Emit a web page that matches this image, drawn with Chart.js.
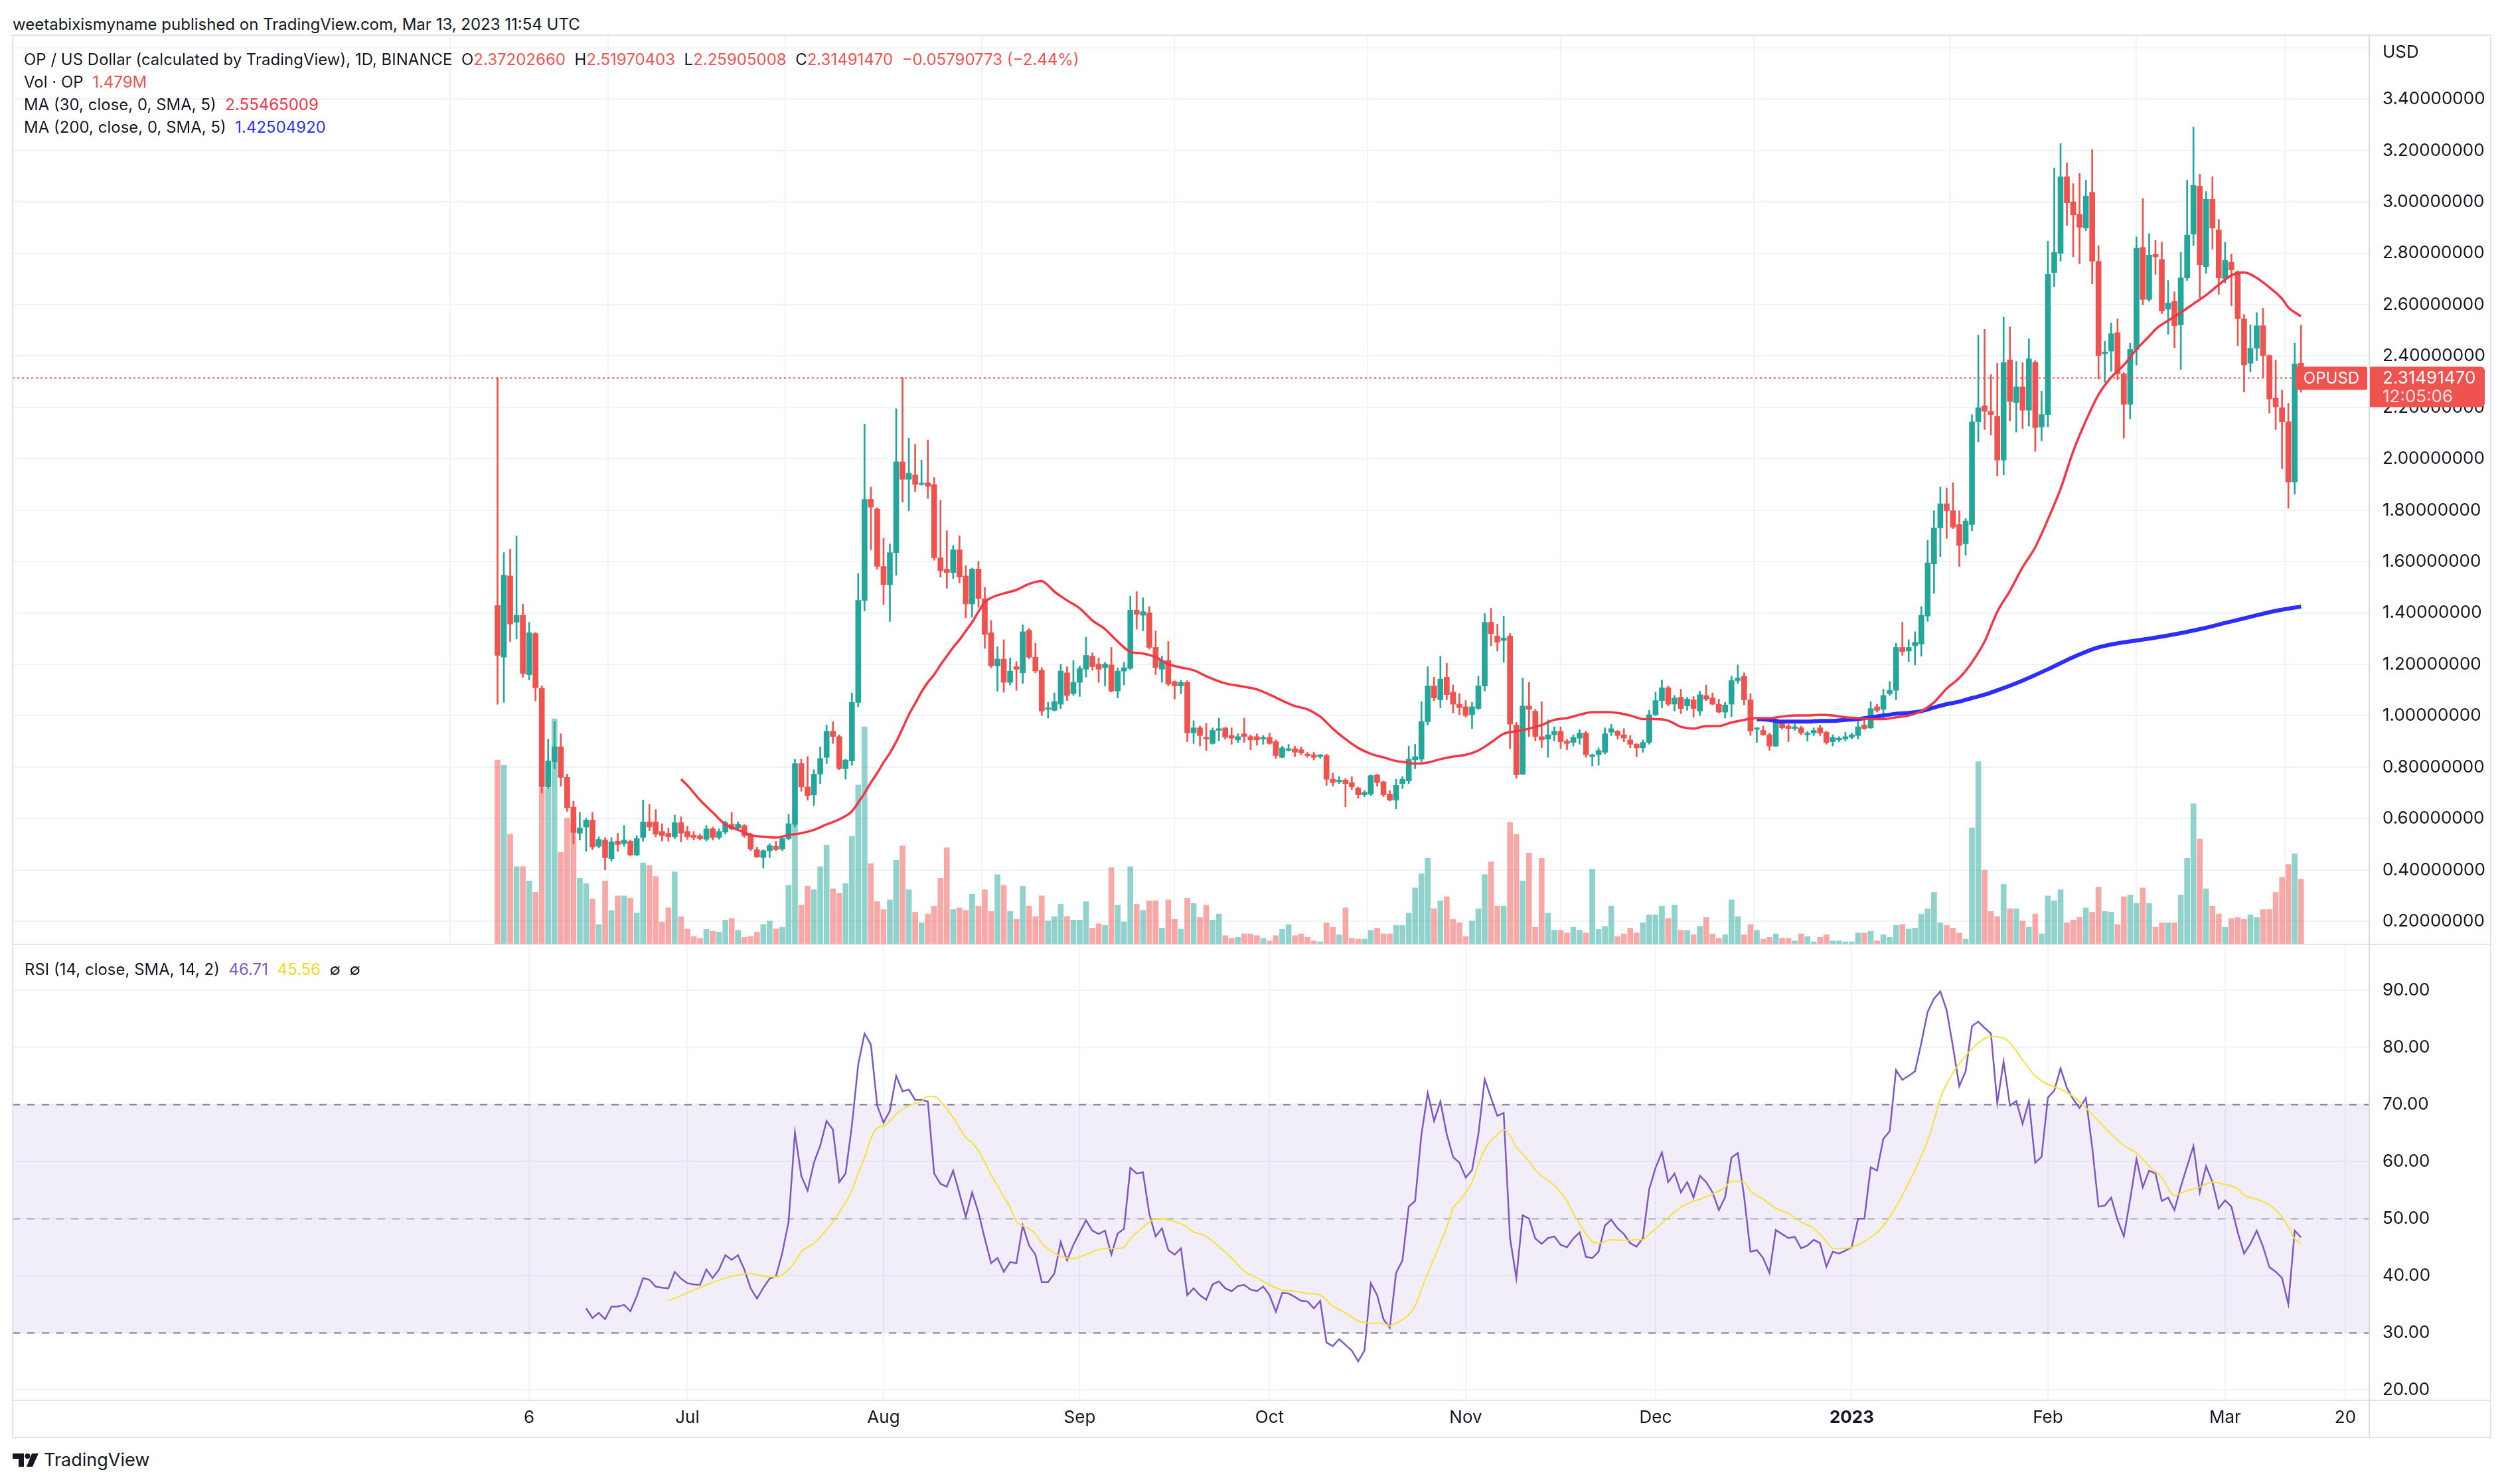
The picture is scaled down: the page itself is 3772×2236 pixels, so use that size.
<!DOCTYPE html>
<html><head><meta charset="utf-8">
<script src="https://cdn.jsdelivr.net/npm/chart.js@4.4.1/dist/chart.umd.min.js"></script>
<style>
html,body{margin:0;padding:0;background:#fff;}
body{width:3772px;height:2236px;position:relative;overflow:hidden;font-family:Inter,"Noto Sans",sans-serif;color:#131722;}
.abs{position:absolute;white-space:pre;line-height:30px;}
.r{color:#ef5350}.m30{color:#f23645}.m200{color:#2d2dff}.pu{color:#7e57c2}.ye{color:#f5d820}
.ln{position:absolute;background:#e0e3eb;}
canvas{position:absolute;}
</style></head><body>
<div class="abs" style="left:19px;top:22px;font-size:24px;">weetabixismyname published on TradingView.com, Mar 13, 2023 11:54 UTC</div>
<canvas id="cp" width="3733" height="1370" style="left:19px;top:53px;width:3733px;height:1370px"></canvas>
<canvas id="cr" width="3733" height="743" style="left:19px;top:1423px;width:3733px;height:743px"></canvas>
<div class="ln" style="left:18px;top:52px;width:3735px;height:2px"></div>
<div class="ln" style="left:18px;top:52px;width:2px;height:2115px"></div>
<div class="ln" style="left:3751px;top:52px;width:2px;height:2115px"></div>
<div class="ln" style="left:18px;top:2165px;width:3735px;height:2px"></div>
<div class="ln" style="left:18px;top:1422px;width:3735px;height:2px"></div>
<div class="ln" style="left:18px;top:2109px;width:3735px;height:2px"></div>
<div class="ln" style="left:3568px;top:52px;width:2px;height:2115px;background:#d9dce4"></div>
<div class="abs" style="left:36px;top:75px;font-size:24px;">OP / US Dollar (calculated by TradingView), 1D, BINANCE  O<span class="r">2.37202660</span>  H<span class="r">2.51970403</span>  L<span class="r">2.25905008</span>  C<span class="r">2.31491470</span>  <span class="r">−0.05790773 (−2.44%)</span></div>
<div class="abs" style="left:36px;top:109px;font-size:24px;">Vol · OP  <span class="r">1.479M</span></div>
<div class="abs" style="left:36px;top:143px;font-size:24px;">MA (30, close, 0, SMA, 5)  <span class="m30">2.55465009</span></div>
<div class="abs" style="left:36px;top:177px;font-size:24px;">MA (200, close, 0, SMA, 5)  <span class="m200">1.42504920</span></div>
<div class="abs" style="left:37px;top:1446px;font-size:24px;">RSI (14, close, SMA, 14, 2)  <span class="pu">46.71</span>  <span class="ye">45.56</span>  ∅  ∅</div>
<svg style="position:absolute;left:19px;top:2190px" width="42" height="20" viewBox="0 0 42 20">
<path d="M0 0H17V20H9V8H0Z" fill="#131722"/><circle cx="22.5" cy="4" r="4" fill="#131722"/><path d="M29 0H39L30 20H21Z" fill="#131722"/></svg>
<div class="abs" style="left:66px;top:2185px;font-size:27px;">TradingView</div>
<script>
// ---------- data ----------
const opens=[1.429,1.228,1.544,1.364,1.391,1.160,1.320,1.106,0.723,0.821,
0.879,0.760,0.645,0.543,0.567,0.594,0.492,0.516,0.444,0.512,
0.502,0.512,0.458,0.526,0.587,0.587,0.550,0.543,0.529,0.584,
0.550,0.536,0.533,0.519,0.560,0.526,0.547,0.577,0.563,0.573,
0.536,0.479,0.448,0.475,0.492,0.482,0.522,0.577,0.814,0.723,
0.692,0.773,0.838,0.940,0.919,0.794,0.824,1.052,1.449,1.842,
1.805,1.581,1.510,1.635,1.988,1.920,1.937,1.900,1.907,1.900,
1.615,1.571,1.557,1.646,1.544,1.435,1.571,1.456,1.323,1.194,
1.221,1.130,1.191,1.167,1.333,1.228,1.177,1.025,1.021,1.045,
1.167,1.086,1.130,1.181,1.232,1.201,1.187,1.198,1.096,1.174,
1.184,1.411,1.391,1.401,1.266,1.181,1.215,1.133,1.116,1.130,
0.933,0.953,0.916,0.892,0.943,0.953,0.923,0.906,0.930,0.919,
0.919,0.909,0.916,0.899,0.838,0.865,0.872,0.868,0.851,0.848,
0.841,0.845,0.753,0.743,0.750,0.740,0.719,0.692,0.695,0.770,
0.743,0.695,0.672,0.736,0.746,0.828,0.831,0.977,1.116,1.062,
1.150,1.092,1.045,1.035,1.004,1.028,1.116,1.364,1.310,1.293,
1.310,0.964,0.773,1.038,1.018,0.919,0.909,0.926,0.940,0.902,
0.896,0.913,0.933,0.841,0.848,0.858,0.936,0.940,0.926,0.906,
0.889,0.875,0.896,1.004,1.059,1.109,1.045,1.072,1.038,1.062,
1.018,1.079,1.069,1.045,1.014,1.045,1.137,1.154,1.062,0.947,
0.943,0.926,0.882,0.970,0.960,0.950,0.953,0.926,0.933,0.953,
0.936,0.899,0.906,0.909,0.916,0.923,0.964,0.953,1.035,1.025,
1.086,1.099,1.266,1.252,1.272,1.279,1.388,1.591,1.731,1.825,
1.798,1.744,1.669,1.744,2.144,2.206,2.185,2.165,1.995,2.385,
2.219,2.280,2.189,2.375,2.124,2.172,2.725,2.799,3.098,3.000,
2.952,2.898,3.037,2.769,2.409,2.419,2.491,2.331,2.212,2.426,
2.823,2.620,2.796,2.776,2.582,2.613,2.521,2.704,2.874,3.061,
2.748,3.010,2.891,2.701,2.765,2.728,2.545,2.372,2.430,2.518,
2.402,2.236,2.199,2.144,1.910,2.3720266];
const highs=[2.317,1.635,1.649,1.700,1.435,1.364,1.325,1.116,0.909,0.977,
0.930,0.773,0.668,0.624,0.601,0.624,0.529,0.526,0.526,0.543,
0.573,0.516,0.533,0.672,0.655,0.635,0.580,0.563,0.614,0.607,
0.570,0.550,0.540,0.573,0.567,0.560,0.590,0.624,0.587,0.577,
0.543,0.489,0.479,0.502,0.512,0.533,0.617,0.831,0.831,0.841,
0.790,0.879,0.964,0.977,0.926,0.831,1.089,1.554,2.134,1.890,
1.810,1.690,1.669,2.195,2.317,2.080,2.056,1.995,2.073,1.927,
1.839,1.720,1.663,1.700,1.585,1.575,1.601,1.500,1.371,1.269,
1.296,1.225,1.211,1.354,1.340,1.282,1.187,1.052,1.089,1.201,
1.191,1.215,1.194,1.306,1.245,1.225,1.208,1.266,1.187,1.208,
1.466,1.483,1.459,1.425,1.330,1.232,1.289,1.136,1.137,1.137,
0.981,0.960,0.970,0.953,0.991,0.955,0.953,0.930,0.991,0.926,
0.930,0.923,0.933,0.906,0.882,0.889,0.882,0.879,0.858,0.858,
0.850,0.851,0.777,0.763,0.756,0.763,0.723,0.709,0.770,0.773,
0.746,0.709,0.753,0.763,0.882,0.889,1.055,1.191,1.150,1.232,
1.204,1.120,1.086,1.059,1.052,1.154,1.398,1.418,1.357,1.388,
1.320,0.974,1.147,1.130,1.025,1.055,0.984,0.957,0.957,0.909,
0.926,0.947,0.940,0.851,0.875,0.953,0.967,0.943,0.950,0.923,
0.892,0.906,1.021,1.092,1.140,1.116,1.079,1.103,1.072,1.075,
1.096,1.120,1.089,1.065,1.052,1.154,1.198,1.167,1.086,0.955,
0.960,0.933,0.984,0.981,0.967,0.967,0.960,0.940,0.953,0.964,
0.940,0.926,0.919,0.936,0.933,0.977,0.984,1.055,1.045,1.103,
1.133,1.283,1.364,1.296,1.327,1.425,1.683,1.798,1.890,1.887,
1.907,1.798,1.768,2.172,2.481,2.504,2.328,2.372,2.552,2.514,
2.379,2.375,2.467,2.382,2.263,2.847,3.132,3.227,3.152,3.071,
3.111,3.084,3.203,2.830,2.457,2.528,2.545,2.335,2.450,2.864,
3.013,2.877,2.850,2.843,2.694,2.650,2.803,3.084,3.291,3.108,
3.040,3.098,2.932,2.843,2.796,2.732,2.562,2.521,2.569,2.586,
2.405,2.385,2.267,2.216,2.450,2.51970403];
const lows=[1.045,1.052,1.289,1.299,1.150,1.140,1.058,0.699,0.718,0.794,
0.726,0.628,0.502,0.516,0.472,0.479,0.485,0.400,0.434,0.472,
0.492,0.455,0.455,0.512,0.553,0.529,0.512,0.512,0.522,0.509,
0.519,0.516,0.516,0.512,0.516,0.519,0.539,0.556,0.556,0.526,
0.475,0.448,0.407,0.448,0.475,0.475,0.516,0.567,0.706,0.672,
0.651,0.736,0.814,0.892,0.790,0.753,0.807,1.035,1.408,1.646,
1.571,1.432,1.367,1.547,1.832,1.798,1.873,1.897,1.846,1.605,
1.540,1.496,1.534,1.517,1.381,1.384,1.422,1.262,1.187,1.096,
1.092,1.120,1.099,1.126,1.221,1.167,1.001,0.991,1.018,1.028,
1.059,1.079,1.075,1.150,1.177,1.130,1.116,1.092,1.069,1.120,
1.180,1.337,1.330,1.259,1.160,1.130,1.116,1.065,1.086,0.899,
0.892,0.882,0.865,0.889,0.902,0.909,0.889,0.896,0.896,0.868,
0.885,0.889,0.889,0.834,0.836,0.862,0.841,0.848,0.838,0.828,
0.834,0.729,0.726,0.736,0.645,0.712,0.679,0.685,0.689,0.726,
0.685,0.668,0.638,0.716,0.736,0.794,0.821,0.964,1.059,1.031,
1.062,1.011,1.004,0.994,0.950,1.025,1.096,1.272,1.252,1.208,
0.872,0.757,0.770,0.919,0.902,0.875,0.838,0.902,0.872,0.868,
0.882,0.889,0.838,0.804,0.807,0.851,0.923,0.909,0.899,0.875,
0.841,0.858,0.889,1.001,1.031,1.038,1.018,1.008,1.021,0.994,
1.001,1.059,1.042,1.011,0.991,0.997,1.126,1.042,0.923,0.896,
0.923,0.865,0.879,0.947,0.899,0.943,0.926,0.902,0.923,0.923,
0.889,0.882,0.899,0.902,0.909,0.909,0.947,0.950,1.014,0.987,
1.079,1.062,1.235,1.211,1.198,1.232,1.367,1.476,1.619,1.690,
1.728,1.581,1.625,1.720,2.066,2.114,2.093,1.934,1.937,2.148,
2.104,2.117,2.127,2.029,2.070,2.124,2.670,2.769,2.908,2.786,
2.759,2.888,2.681,2.311,2.297,2.341,2.307,2.080,2.155,2.365,
2.599,2.613,2.718,2.565,2.484,2.433,2.348,2.694,2.830,2.626,
2.721,2.816,2.640,2.684,2.596,2.440,2.260,2.338,2.382,2.317,
2.178,2.114,1.961,1.808,1.863,2.25905008];
const closes=[1.235,1.547,1.357,1.391,1.164,1.323,1.109,0.723,0.824,0.879,
0.760,0.641,0.546,0.563,0.594,0.489,0.519,0.448,0.509,0.499,
0.516,0.458,0.522,0.587,0.567,0.539,0.533,0.529,0.584,0.543,
0.529,0.526,0.522,0.560,0.526,0.550,0.584,0.560,0.577,0.533,
0.482,0.451,0.475,0.495,0.479,0.522,0.580,0.814,0.723,0.689,
0.773,0.834,0.940,0.919,0.794,0.828,1.052,1.449,1.842,1.812,
1.581,1.510,1.635,1.988,1.920,1.944,1.900,1.903,1.893,1.615,
1.564,1.557,1.646,1.540,1.435,1.571,1.456,1.316,1.194,1.221,
1.130,1.174,1.181,1.327,1.228,1.174,1.018,1.031,1.055,1.174,
1.079,1.130,1.184,1.235,1.191,1.181,1.201,1.096,1.174,1.187,
1.411,1.395,1.405,1.266,1.187,1.215,1.123,1.116,1.130,0.933,
0.953,0.923,0.909,0.943,0.950,0.916,0.913,0.919,0.919,0.906,
0.906,0.916,0.892,0.845,0.875,0.872,0.858,0.855,0.845,0.838,
0.848,0.753,0.740,0.750,0.736,0.723,0.692,0.702,0.767,0.740,
0.692,0.672,0.729,0.753,0.831,0.841,0.977,1.116,1.069,1.143,
1.082,1.045,1.031,1.001,1.035,1.116,1.364,1.320,1.286,1.303,
0.967,0.770,1.038,1.025,0.919,0.906,0.926,0.940,0.899,0.892,
0.916,0.933,0.848,0.848,0.865,0.930,0.950,0.923,0.913,0.889,
0.875,0.896,1.004,1.059,1.109,1.045,1.069,1.028,1.065,1.028,
1.082,1.065,1.045,1.014,1.042,1.137,1.147,1.062,0.940,0.953,
0.926,0.882,0.977,0.953,0.950,0.957,0.933,0.933,0.943,0.933,
0.896,0.916,0.913,0.919,0.926,0.957,0.950,1.028,1.021,1.079,
1.099,1.266,1.249,1.266,1.286,1.391,1.595,1.731,1.825,1.798,
1.734,1.663,1.758,2.144,2.199,2.185,2.172,1.995,2.375,2.223,
2.280,2.189,2.389,2.121,2.172,2.718,2.803,3.098,2.996,2.949,
2.901,3.023,2.769,2.402,2.416,2.487,2.331,2.212,2.426,2.820,
2.620,2.793,2.786,2.575,2.606,2.518,2.704,2.871,3.064,2.755,
3.010,2.898,2.704,2.772,2.735,2.545,2.365,2.430,2.518,2.402,
2.233,2.202,2.144,1.910,2.369,2.3149147];
const volumes=[4.18,4.06,2.50,1.76,1.76,1.44,1.18,3.55,3.55,5.11,
2.09,2.86,2.76,1.50,1.38,1.03,0.45,1.44,0.77,1.10,
1.10,1.05,0.71,1.85,1.79,1.54,0.51,0.83,1.64,0.63,
0.35,0.18,0.14,0.34,0.30,0.28,0.55,0.59,0.32,0.16,
0.18,0.28,0.45,0.53,0.35,0.39,1.34,2.76,0.89,1.32,
1.24,1.76,2.25,1.26,1.16,1.38,2.45,3.61,4.93,1.83,
0.97,0.79,1.01,1.91,2.23,1.24,0.73,0.49,0.69,0.87,
1.50,2.19,0.79,0.83,0.77,1.14,0.87,1.24,0.75,1.58,
1.34,0.75,0.57,1.32,0.87,0.63,1.10,0.53,0.63,0.91,
0.63,0.55,0.55,0.97,0.37,0.47,0.43,1.74,0.89,0.51,
1.76,0.91,0.77,0.99,0.99,0.37,1.01,0.57,0.35,1.05,
0.93,0.61,0.89,0.55,0.69,0.20,0.14,0.16,0.24,0.24,
0.20,0.14,0.08,0.20,0.34,0.45,0.20,0.24,0.16,0.08,
0.06,0.49,0.39,0.22,0.83,0.14,0.12,0.12,0.32,0.37,
0.24,0.24,0.43,0.43,0.71,1.28,1.60,1.95,0.81,0.99,
1.08,0.57,0.49,0.18,0.53,0.81,1.58,1.87,0.87,0.87,
2.76,2.50,1.44,2.07,0.39,1.95,0.71,0.32,0.32,0.26,
0.39,0.32,0.26,1.70,0.34,0.41,0.87,0.18,0.24,0.37,
0.26,0.49,0.67,0.67,0.87,0.59,0.89,0.32,0.32,0.22,
0.41,0.61,0.24,0.14,0.22,1.01,0.63,0.22,0.45,0.32,
0.12,0.16,0.24,0.14,0.14,0.08,0.24,0.18,0.06,0.16,
0.22,0.08,0.08,0.06,0.06,0.26,0.26,0.30,0.08,0.22,
0.16,0.43,0.45,0.35,0.37,0.69,0.81,1.18,0.49,0.43,
0.37,0.26,0.12,2.64,4.14,1.68,0.75,0.63,1.36,0.81,
0.81,0.53,0.39,0.69,0.24,1.10,0.99,1.24,0.49,0.55,
0.61,0.83,0.73,1.30,0.75,0.73,0.45,1.08,1.12,0.93,
1.28,0.93,0.39,0.49,0.49,0.49,1.12,1.95,3.19,2.39,
1.26,0.87,0.69,0.39,0.59,0.61,0.57,0.67,0.61,0.79,
0.79,1.18,1.52,1.81,2.05,1.479];
const ma30Idx=[29,30,32,34,36,38,40,42,44,46,48,50,52,54,56,57,58,59,60,61,62,63,64,65,66,67,68,69,70,71,72,73,74,75,76,77,78,80,82,84,86,87,88,90,92,94,96,98,100,102,104,106,108,110,112,115,118,120,122,124,126,128,130,132,134,136,138,140,142,143,145,147,149,151,153,155,157,159,161,163,165,167,169,171,173,175,177,179,181,183,185,187,189,191,193,195,197,199,201,203,205,207,209,211,213,215,217,219,221,223,225,227,229,231,233,235,237,239,241,243,245,247,249,251,253,255,257,259,261,262,264,266,268,270,272,274,276,278,280,282,283,285];
const ma30Val=[0.753,0.729,0.672,0.624,0.577,0.556,0.536,0.529,0.526,0.536,0.543,0.556,0.577,0.597,0.628,0.662,0.699,0.740,0.777,0.818,0.855,0.899,0.950,1.004,1.048,1.093,1.130,1.160,1.198,1.232,1.266,1.296,1.330,1.364,1.405,1.442,1.459,1.476,1.490,1.513,1.524,1.507,1.483,1.449,1.418,1.371,1.337,1.289,1.249,1.242,1.228,1.201,1.188,1.177,1.154,1.126,1.113,1.103,1.082,1.059,1.038,1.025,0.997,0.950,0.909,0.875,0.852,0.838,0.824,0.821,0.814,0.818,0.831,0.841,0.848,0.865,0.896,0.930,0.940,0.950,0.964,0.984,0.991,1.004,1.014,1.014,1.011,1.001,0.987,0.987,0.981,0.957,0.950,0.960,0.960,0.974,0.984,0.991,0.991,0.997,1.001,1.001,1.004,1.001,0.994,0.991,0.987,0.987,0.994,1.001,1.018,1.052,1.106,1.147,1.208,1.289,1.405,1.486,1.578,1.656,1.764,1.883,2.029,2.148,2.250,2.317,2.365,2.426,2.477,2.504,2.538,2.569,2.603,2.637,2.677,2.714,2.725,2.704,2.667,2.623,2.589,2.55465009];
const ma200Idx=[199,201,203,205,207,209,211,213,215,217,219,221,223,225,227,229,231,233,235,237,241,245,249,253,257,261,265,269,273,277,281,285];
const ma200Val=[0.987,0.984,0.977,0.977,0.977,0.980,0.980,0.984,0.987,0.994,1.001,1.008,1.011,1.018,1.032,1.045,1.055,1.069,1.082,1.099,1.137,1.181,1.228,1.266,1.286,1.300,1.317,1.337,1.361,1.385,1.408,1.4250492];
const rsiStart=14;
const rsiVals=[34.3,32.6,33.5,32.4,34.6,34.6,34.9,33.8,36.4,39.6,
39.3,38.1,37.9,37.8,40.7,39.5,38.7,38.5,38.4,41.1,
39.6,41.1,43.6,42.8,43.6,41.1,37.8,36.0,37.9,39.5,
39.9,44.0,49.5,65.1,57.5,54.9,59.8,62.8,67.1,65.6,
56.4,57.9,66.3,77.0,82.4,80.5,69.8,66.8,68.9,75.0,
72.3,72.6,70.8,70.8,70.5,57.9,56.1,55.6,58.4,54.4,
50.3,54.6,51.1,46.5,42.2,43.1,40.7,42.4,42.2,48.8,
45.3,43.7,38.9,38.9,40.4,45.9,42.7,45.4,47.6,49.7,
47.9,47.3,47.9,43.7,47.4,48.2,58.9,57.9,58.1,50.8,
46.9,48.3,44.5,43.7,44.8,36.6,37.8,36.6,35.8,38.5,
39.0,37.8,37.3,38.2,38.4,37.6,37.3,38.1,36.6,33.7,
37.0,36.9,36.3,35.6,35.5,34.3,35.6,28.3,27.7,28.9,
27.9,26.9,25.0,26.9,38.7,36.6,32.4,30.9,40.5,42.7,
52.1,53.1,64.7,72.0,67.1,70.5,64.8,60.8,59.8,57.2,
58.5,64.8,74.4,71.1,68.0,68.5,46.6,39.6,50.6,50.0,
46.5,45.6,46.6,46.9,45.4,45.0,46.5,47.6,43.3,43.1,
44.2,48.8,49.8,48.3,47.3,45.7,45.1,46.6,55.2,58.9,
61.6,56.4,57.9,54.6,56.4,53.7,57.5,56.4,54.6,51.5,
53.8,60.7,61.5,53.8,44.2,44.5,43.1,40.5,48.0,47.3,
46.6,46.8,44.8,45.3,46.3,45.7,41.6,44.2,43.9,44.4,
45.0,50.0,50.0,59.0,58.4,64.0,65.3,76.0,74.3,75.0,
75.8,80.8,86.2,88.5,89.8,86.5,80.1,73.2,75.8,83.7,
84.5,83.4,82.4,70.2,77.5,69.8,70.6,66.6,70.6,59.8,
60.8,71.2,72.4,76.3,72.9,70.9,69.4,71.1,62.5,52.1,
52.3,53.7,49.8,46.9,53.4,60.4,55.5,58.4,57.9,53.1,
53.7,51.5,55.6,59.2,62.7,54.6,59.2,56.4,51.8,53.2,
52.1,47.6,43.9,45.6,47.9,45.1,41.5,40.7,39.6,35.0,
47.9,46.71];
const rsiMaIdx=[27,30,33,37,40,42,44,45,46,47,48,50,52,54,56,57,58,59,60,61,62,63,64,66,67,68,69,70,71,72,73,74,75,76,77,78,79,80,81,82,83,84,85,86,87,88,89,90,91,92,93,94,96,98,99,100,102,103,104,106,108,110,112,114,116,118,120,122,124,126,128,130,132,134,136,138,140,141,142,143,144,145,146,147,148,149,150,151,152,153,154,155,156,157,158,159,160,161,162,163,164,165,166,167,168,169,170,171,172,173,174,176,178,180,181,182,183,184,185,186,187,188,189,190,192,194,195,197,198,200,202,204,206,208,210,211,213,214,216,218,220,222,224,226,227,228,230,232,234,236,238,239,241,243,245,247,249,251,253,255,257,259,261,263,265,267,269,271,273,275,276,278,280,282,283,284,285];
const rsiMaVal=[35.6,37.0,38.4,39.9,40.4,39.9,39.8,40.2,41.1,42.4,44.2,45.7,48.0,51.1,54.9,57.9,60.7,64.0,65.9,66.2,67.1,68.3,69.2,70.2,70.5,71.4,71.4,70.5,69.2,67.7,65.9,64.2,63.3,61.9,59.9,57.6,55.8,53.8,52.0,49.5,48.8,48.2,47.3,45.7,44.7,44.0,43.4,43.1,43.0,43.3,43.7,44.2,44.8,44.8,45.0,46.5,48.5,49.4,50.0,49.8,49.1,47.7,46.9,45.1,43.1,40.8,39.6,38.4,37.5,37.3,36.9,36.6,34.7,33.5,32.1,31.7,31.7,31.2,31.7,32.3,33.2,34.7,37.6,40.4,43.0,45.7,48.5,51.8,53.1,54.6,56.4,59.5,62.1,63.7,64.7,65.6,64.5,62.5,61.3,60.1,58.5,57.5,56.7,55.8,54.6,53.1,50.9,49.1,47.3,46.0,45.7,46.3,46.2,46.3,46.3,47.3,48.2,49.2,50.2,51.2,52.0,52.6,53.1,53.4,54.3,55.5,56.6,56.4,54.9,53.4,51.8,50.9,49.4,48.3,46.0,44.8,44.8,45.0,46.0,47.6,50.3,54.1,58.5,63.7,67.1,71.1,75.5,78.5,80.8,81.9,81.6,80.8,77.8,75.0,73.5,72.7,71.4,69.4,67.1,64.8,62.8,61.5,59.2,57.2,54.1,54.9,55.5,56.4,56.0,55.2,54.1,53.4,52.4,50.3,48.5,46.5,45.56];
const timeTickIdx=[5,30,61,92,122,153,183,214,245,273,292];
const timeTickLabels=['6','Jul','Aug','Sep','Oct','Nov','Dec','2023','Feb','Mar','20'];
const priceTicks=[0.2,0.4,0.6,0.8,1.0,1.2,1.4,1.6,1.8,2.0,2.2,2.4,2.6,2.8,3.0,3.2,3.4,3.6];
const rsiTicks=[20,30,40,50,60,70,80,90];
const lastClose=closes[closes.length-1];

// ---------- style ----------
const GREEN='#26a69a', RED='#ef5350', GRID='#f0f3fa', TXT='#131722';
const FONT='Inter, "Noto Sans", sans-serif';
const XMIN=-76.63, XMAX=295.78, PMIN=0.1101, PMAX=3.6487, RMIN=18.18, RMAX=98.02;
Chart.defaults.font.family=FONT;
const up=i=>closes[i]>=opens[i];
const N=closes.length;
const ids=Array.from({length:N},(_,i)=>i);
const noPad=s=>{s.paddingTop=0;s.paddingBottom=0;s.paddingLeft=0;s.paddingRight=0;};

const pricePlugin={id:'lastPrice',
 afterDatasetsDraw(chart){const {ctx,chartArea:a,scales:{y}}=chart;const py=Math.round(y.getPixelForValue(lastClose))+0.5;
  ctx.save();ctx.strokeStyle=RED;ctx.lineWidth=2;ctx.setLineDash([3,4]);ctx.beginPath();ctx.moveTo(a.left,py);ctx.lineTo(a.right,py);ctx.stroke();ctx.restore();},
 afterDraw(chart){const {ctx,chartArea:a,scales:{y}}=chart;const py=y.getPixelForValue(lastClose);
  ctx.save();ctx.fillStyle=RED;ctx.beginPath();ctx.roundRect(a.right-111,py-17,108,35,3);ctx.fill();
  ctx.beginPath();ctx.roundRect(a.right-1,py-17,175,61,[0,6,6,0]);ctx.fill();
  ctx.fillStyle='#fff';ctx.textBaseline='middle';ctx.textAlign='center';ctx.font='24px '+FONT;ctx.fillText('OPUSD',a.right-57,py+1);
  ctx.textAlign='left';ctx.font='26px '+FONT;ctx.fillText(lastClose.toFixed(8),a.right+20,py+1);
  ctx.fillStyle='rgba(255,255,255,0.82)';ctx.fillText('12:05:06',a.right+20,py+29);
  ctx.fillStyle=TXT;ctx.fillText('USD',a.right+20,26);ctx.restore();}
};
const xCommon={type:'linear',min:XMIN,max:XMAX,offset:false,
 afterBuildTicks:s=>{s.ticks=timeTickIdx.map(v=>({value:v}));},
 grid:{color:GRID,lineWidth:2,drawTicks:false},border:{display:false}};

new Chart(document.getElementById('cp'),{type:'bar',
 data:{datasets:[
  {type:'line',label:'MA 30',data:ma30Idx.map((x,k)=>({x,y:ma30Val[k]})),borderColor:'#f23645',borderWidth:3.5,pointRadius:0,cubicInterpolationMode:'monotone',order:1,yAxisID:'y'},
  {type:'line',label:'MA 200',data:ma200Idx.map((x,k)=>({x,y:ma200Val[k]})),borderColor:'#2d2dff',borderWidth:6,pointRadius:0,cubicInterpolationMode:'monotone',order:2,yAxisID:'y'},
  {label:'body',data:ids.map(i=>({x:i,y:[opens[i],closes[i]]})),backgroundColor:c=>up(c.dataIndex)?GREEN:RED,barThickness:8,minBarLength:2,grouped:false,order:3,yAxisID:'y'},
  {label:'wick',data:ids.map(i=>({x:i,y:[lows[i],highs[i]]})),backgroundColor:c=>up(c.dataIndex)?GREEN:RED,barThickness:2,grouped:false,order:4,yAxisID:'y'},
  {label:'volume',data:ids.map(i=>({x:i,y:volumes[i]})),backgroundColor:c=>up(c.dataIndex)?'rgba(38,166,154,0.5)':'rgba(239,83,80,0.5)',barThickness:8,grouped:false,order:5,yAxisID:'yv'}
 ]},
 options:{responsive:false,animation:false,devicePixelRatio:1,layout:{padding:0},
  plugins:{legend:{display:false},tooltip:{enabled:false}},
  scales:{
   x:Object.assign({},xCommon,{ticks:{display:false},afterFit:s=>{s.height=0;noPad(s);}}),
   y:{position:'right',min:PMIN,max:PMAX,afterBuildTicks:s=>{s.ticks=priceTicks.map(v=>({value:v}));},
      ticks:{callback:v=>v>3.5?'':v.toFixed(8),color:TXT,font:{size:26,lineHeight:1},padding:20,crossAlign:'near'},
      grid:{color:GRID,lineWidth:2,drawTicks:false},border:{display:false},afterFit:s=>{s.width=183;noPad(s);}},
   yv:{display:false,min:0,max:20.6}
  }},
 plugins:[pricePlugin]});

const rsiPlugin={id:'rsiBands',beforeDatasetsDraw(chart){const {ctx,chartArea:a,scales:{y}}=chart;
 const y70=y.getPixelForValue(70),y30=y.getPixelForValue(30),y50=y.getPixelForValue(50);
 ctx.save();ctx.fillStyle='rgba(126,87,194,0.1)';ctx.fillRect(a.left,y70,a.right-a.left,y30-y70);
 ctx.lineWidth=2;ctx.setLineDash([11,11]);
 [[y70,'#787b86'],[y50,'rgba(120,123,134,0.55)'],[y30,'#787b86']].forEach(([yy,c])=>{ctx.strokeStyle=c;ctx.beginPath();ctx.moveTo(a.left,Math.round(yy)+0.5);ctx.lineTo(a.right,Math.round(yy)+0.5);ctx.stroke();});
 ctx.restore();}};

new Chart(document.getElementById('cr'),{type:'line',
 data:{datasets:[
  {label:'RSI',data:rsiVals.map((v,k)=>({x:rsiStart+k,y:v})),borderColor:'#7e57c2',borderWidth:2.5,pointRadius:0,order:2},
  {label:'RSI-based MA',data:rsiMaIdx.map((x,k)=>({x,y:rsiMaVal[k]})),borderColor:'#f9e03a',borderWidth:2,pointRadius:0,cubicInterpolationMode:'monotone',order:1}
 ]},
 options:{responsive:false,animation:false,devicePixelRatio:1,layout:{padding:0},
  plugins:{legend:{display:false},tooltip:{enabled:false}},
  scales:{
   x:Object.assign({},xCommon,{ticks:{autoSkip:false,maxRotation:0,padding:13,color:TXT,
      callback:(v,i)=>timeTickLabels[i],
      font:c=>({size:26,lineHeight:1,weight:(c.tick&&c.tick.value===214)?'bold':'normal'})},
      afterFit:s=>{s.height=56;noPad(s);}}),
   y:{position:'right',min:RMIN,max:RMAX,afterBuildTicks:s=>{s.ticks=rsiTicks.map(v=>({value:v}));},
      ticks:{callback:v=>v.toFixed(2),color:TXT,font:{size:26,lineHeight:1},padding:20,crossAlign:'near'},
      grid:{color:GRID,lineWidth:2,drawTicks:false},border:{display:false},afterFit:s=>{s.width=183;noPad(s);}}
  }},
 plugins:[rsiPlugin]});
</script>
</body></html>
